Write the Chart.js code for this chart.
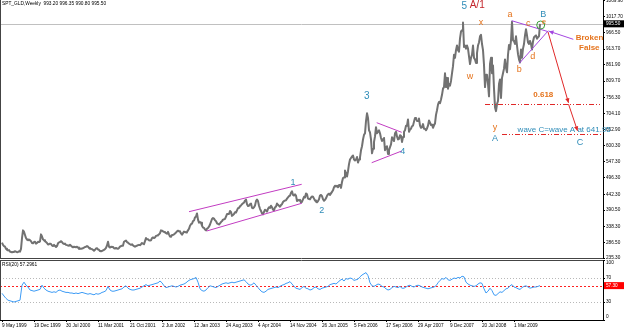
<!DOCTYPE html>
<html>
<head>
<meta charset="utf-8">
<title>SPT_GLD Weekly</title>
<script src="https://cdn.jsdelivr.net/npm/chart.js@4.4.0/dist/chart.umd.min.js"></script>
<style>
  html, body { margin: 0; padding: 0; background: #fff; }
  #wrap { position: relative; width: 625px; height: 330px; overflow: hidden; }
  #main { position: absolute; left: 0; top: 0; }
  #rsi { position: absolute; left: 0; top: 254px; }
</style>
</head>
<body>
<div id="wrap">
  <canvas id="main" width="625" height="260"></canvas>
  <canvas id="rsi" width="625" height="76"></canvas>
</div>
<script>
// weekly closes, first bar is the week of 9 May 1999
const gold1999 = [285,278,274,272, 265,262,260,261, 256,255,254,255, 256,257,256,254,255, 257,256,265,300, 325,320,310,300,295, 293,295,293,290, 284,283,287,288];
const gold2000 = [282,284,288,287,289, 312,305,296,293, 290,287,284,279, 280,282,281,276,274, 278,274,271,274, 283,286,287,290, 287,283,281,282,278, 277,276,275,278, 275,272,270,272, 271,270,272,269,265, 266,265,266,267, 269,271,272,274,272];
const gold2001 = [268,265,265,264, 262,259,262,266, 267,263,262,258, 257,258,260,262,264, 268,276,288,272, 269,272,272,271, 267,266,268,266,265, 268,272,274,275, 276,288,290,292,287, 285,282,280,278, 280,276,274,272, 274,275,277,278,277];
const gold2002 = [280,284,282,280, 290,300,296,296, 293,292,293,300,302, 300,302,307,308, 310,312,316,325, 324,322,320,318,316, 314,320,312,305, 304,310,310,312, 315,318,322,324,322, 321,315,311,316, 321,320,318,320, 325,330,340,345,347];
const gold2003 = [355,357,367,370, 380,360,350,352, 350,340,334,333,328, 325,330,333,337, 344,353,362,365, 363,358,355,348,346, 344,348,352,355, 360,360,362,370,378, 378,378,388,385, 372,375,378,384, 383,390,397,398,403, 406,410,413,415];
const gold2004 = [422,425,410,404, 405,410,412,398,397, 400,406,420,425, 420,405,395,388, 380,377,385,392,390, 386,395,400,398, 405,400,392,390, 400,402,412,408,405, 402,407,410,417, 420,422,423,428,432, 436,438,447,452, 440,438,442,438];
const gold2005 = [420,424,422,424,415, 418,426,434,432, 445,442,428,427, 426,432,435,434, 428,422,418,416,420, 426,438,440,436, 426,421,424,429,437, 442,444,440,445, 450,455,465,470, 467,470,465,472,472, 463,482,495,497, 519,510,500,517];
const gold2006 = [540,555,560,565,568, 555,552,555,563, 545,555,562,585, 598,620,635,640,680, 705,690,650,643, 620,575,590,612, 630,660,640,645,650, 640,625,615,620, 625,585,595,598, 573,585,595,604,627, 622,615,640,645, 630,620,622,634,632];
const gold2007 = [612,628,645,650, 665,665,685,645, 652,655,663,665, 678,690,690,680,680, 688,665,658,660, 670,655,655,650, 656,665,682,675,667, 668,658,666,672, 700,715,733,742,738, 750,765,785,790, 835,790,820,785, 800,795,810,835,858];
const gold2008 = [895,885,910,925, 910,905,948,970, 975,1000,920,925,915, 925,915,890,865, 885,895,925,885, 880,868,900,925,935, 955,960,930,910, 862,790,830,830,800, 760,865,885,835, 860,785,725,712, 735,745,800,815,755, 820,835,850,880];
const gold2009 = [853,838,895,927, 913,941,1002,942, 939,930,955,925,897, 880,870,912,885, 915,930,958,978,958, 935,930,940,930, 912,938,952,955, 958,947,952,955,995.5];

// RSI(20), one reading every second week
const rsiPart1 = [44.5,40,36,33,32,31,30,31,32,33, 58,63,58,55,50,49,48,49,50,51, 58,53,50,48,47,46,47,46,49,50, 48,47,46,46,45,45,44,45,44,45, 46,45,44,43,44];
const rsiPart2 = [43,42,44,43,44,46,47,49,56,50, 48,48,49,50,51,52,55,57,53,51, 50,50,51,52,53,55,57,59,57,58, 59,60,61,62,65,62,57,54,55,56, 57,56,55,56,58];
const rsiPart3 = [59,60,62,65,67,68,69,71,63,52, 49,48,50,54,57,56,55,54,56,58, 60,61,62,61,62,63,62,63,64,65, 66,67,64,60,58,59,62,58,54,50, 47,46,48,51,52];
const rsiPart4 = [53,54,55,54,56,58,59,61,62,64, 60,56,53,52,51,54,56,53,52,50, 51,54,55,52,51,53,54,55,56,59, 60,61,60,63,66,68,65,69,68,70, 69,66,67,68,72];
const rsiPart5 = [75,77,79,74,62,57,56,58,60,59, 56,55,52,50,51,54,56,55,54,56, 53,53,55,57,58,56,55,57,58,57, 55,54,53,52,53,54,55,57,62,66, 69,68,71,67,66];
const rsiPart6 = [68,70,69,71,70,73,72,63,60,58, 57,56,57,60,62,61,52,45,48,53, 49,42,41,44,47,46,49,52,53,57, 59,55,54,52,51,54,56,57,55,53, 54,55,55,56,57.3];

const priceTicks = [235.30, 286.50, 338.30, 390.50, 442.30, 496.30, 547.30, 600.30, 652.90, 704.10, 756.30, 809.70, 861.90, 913.70, 966.50, 1017.70, 1069.90];
const rsiTicks = [0, 30, 70, 100];
const dateLabels = ['9 May 1999', '19 Dec 1999', '30 Jul 2000', '11 Mar 2001', '21 Oct 2001', '2 Jun 2002', '12 Jan 2003', '24 Aug 2003', '4 Apr 2004', '14 Nov 2004', '26 Jun 2005', '5 Feb 2006', '17 Sep 2006', '29 Apr 2007', '9 Dec 2007', '20 Jul 2008', '1 Mar 2009'];
const weeksPerLabel = 32;
const lastClose = 995.50;
const rsiNow = 57.2961;
const titleText = 'SPT_GLD,Weekly  993.20 996.35 990.80 995.50';

const closes = [].concat(gold1999, gold2000, gold2001, gold2002, gold2003, gold2004, gold2005, gold2006, gold2007, gold2008, gold2009);
const rsiValues = [].concat(rsiPart1, rsiPart2, rsiPart3, rsiPart4, rsiPart5, rsiPart6);

const FONT = 'Liberation Sans';
const TEAL = '#2f8cb8';
const ORANGE = '#e5731c';
const MAGENTA = '#c23cc2';
const VIOLET = '#a447e0';
const RED = '#e02828';

// drawn wave marks, in (week, price)
const waveLines = [
  { a: [187, 385.6], b: [299.7, 474.5], color: MAGENTA },
  { a: [204.7, 322.9], b: [299.7, 412.9], color: MAGENTA },
  { a: [374.7, 674.5], b: [399.7, 643.3], color: MAGENTA },
  { a: [369.7, 544.6], b: [399.7, 582.6], color: MAGENTA },
  { a: [509.7, 1005.6], b: [546.3, 969.9], color: VIOLET },
  { a: [517.3, 867.3], b: [546.3, 973.2], color: VIOLET }
];
const arrows = [
  { a: [571.3, 945.2], b: [547, 971.5], color: VIOLET },
  { a: [546, 969], b: [566.5, 739], color: RED },
  { a: [566.5, 735], b: [575.5, 648], color: RED }
];
const levels = [
  { from: 483, to: 598, p: 735.2 },
  { from: 500, to: 601, p: 637 }
];
const waveText = [
  { t: '1', w: 291, p: 478.8, c: TEAL, s: 9 },
  { t: '2', w: 319.7, p: 388.8, c: TEAL, s: 9 },
  { t: '3', w: 364.7, p: 758.9, c: TEAL, s: 10 },
  { t: '4', w: 400.7, p: 580.4, c: TEAL, s: 9 },
  { t: '5', w: 462.3, p: 1053.3, c: TEAL, s: 10 },
  { t: 'A/1', w: 475.2, p: 1056.5, c: '#c3262c', s: 10 },
  { t: 'x', w: 479, p: 999.1, c: ORANGE, s: 9 },
  { t: 'w', w: 468, p: 823.8, c: ORANGE, s: 9 },
  { t: 'y', w: 493, p: 658.3, c: ORANGE, s: 9 },
  { t: 'A', w: 493, p: 623.8, c: TEAL, s: 9 },
  { t: 'a', w: 508, p: 1024.1, c: ORANGE, s: 9 },
  { t: 'b', w: 517.3, p: 847.9, c: ORANGE, s: 9 },
  { t: 'c', w: 526.3, p: 994.9, c: ORANGE, s: 9 },
  { t: 'd', w: 530.7, p: 888.7, c: ORANGE, s: 9 },
  { t: 'e', w: 542, p: 1001.4, c: ORANGE, s: 8 },
  { t: 'B', w: 541.3, p: 1026.4, c: TEAL, s: 9 },
  { t: 'Broken', w: 587.5, p: 948.5, c: ORANGE, s: 8, bold: true },
  { t: 'False', w: 587.3, p: 918, c: ORANGE, s: 8, bold: true },
  { t: '0.618', w: 541.3, p: 764.4, c: ORANGE, s: 8, bold: true },
  { t: 'wave C=wave A at 641.95', w: 562.2, p: 650.8, c: TEAL, s: 8 },
  { t: 'C', w: 578, p: 609.6, c: TEAL, s: 9 }
];

function toPx(chart, w, p) {
  return [chart.scales.x.getPixelForValue(w), chart.scales.y.getPixelForValue(p)];
}

function arrowHead(ctx, x1, y1, x2, y2, color) {
  const ang = Math.atan2(y2 - y1, x2 - x1);
  const size = 5;
  ctx.fillStyle = color;
  ctx.beginPath();
  ctx.moveTo(x2, y2);
  ctx.lineTo(x2 - size * Math.cos(ang - 0.45), y2 - size * Math.sin(ang - 0.45));
  ctx.lineTo(x2 - size * Math.cos(ang + 0.45), y2 - size * Math.sin(ang + 0.45));
  ctx.closePath();
  ctx.fill();
}

function axisBox(ctx, x, y, text, bg) {
  ctx.fillStyle = bg;
  ctx.fillRect(x, y - 3.5, 20, 7);
  ctx.fillStyle = '#fff';
  ctx.font = '4.7px "' + FONT + '"';
  ctx.textAlign = 'left';
  ctx.textBaseline = 'middle';
  ctx.fillText(text, x + 2, y + 0.3);
}

const mainMarks = {
  id: 'mainMarks',
  beforeDatasetsDraw(chart) {
    const ctx = chart.ctx;
    const area = chart.chartArea;
    const y = Math.round(chart.scales.y.getPixelForValue(lastClose)) + 0.5;
    ctx.save();
    ctx.strokeStyle = '#c0c0c0';
    ctx.lineWidth = 1;
    ctx.beginPath();
    ctx.moveTo(area.left, y);
    ctx.lineTo(area.right, y);
    ctx.stroke();
    ctx.restore();
  },
  afterDraw(chart) {
    const ctx = chart.ctx;
    const area = chart.chartArea;
    ctx.save();

    // frame
    ctx.strokeStyle = '#444';
    ctx.lineWidth = 1;
    ctx.beginPath();
    ctx.moveTo(0.5, 0);
    ctx.lineTo(0.5, area.bottom);
    ctx.moveTo(0, area.bottom + 0.5);
    ctx.lineTo(area.right, area.bottom + 0.5);
    ctx.stroke();

    ctx.lineWidth = 1;
    waveLines.forEach(l => {
      const [x1, y1] = toPx(chart, l.a[0], l.a[1]);
      const [x2, y2] = toPx(chart, l.b[0], l.b[1]);
      ctx.strokeStyle = l.color;
      ctx.beginPath();
      ctx.moveTo(x1, y1);
      ctx.lineTo(x2, y2);
      ctx.stroke();
    });

    ctx.setLineDash([5, 2, 1, 2, 1, 2]);
    ctx.strokeStyle = RED;
    levels.forEach(l => {
      const [x1, y] = toPx(chart, l.from, l.p);
      const [x2] = toPx(chart, l.to, l.p);
      const yy = Math.round(y) + 0.5;
      ctx.beginPath();
      ctx.moveTo(x1, yy);
      ctx.lineTo(x2, yy);
      ctx.stroke();
    });
    ctx.setLineDash([]);

    arrows.forEach(l => {
      const [x1, y1] = toPx(chart, l.a[0], l.a[1]);
      const [x2, y2] = toPx(chart, l.b[0], l.b[1]);
      ctx.strokeStyle = l.color;
      ctx.beginPath();
      ctx.moveTo(x1, y1);
      ctx.lineTo(x2, y2);
      ctx.stroke();
      arrowHead(ctx, x1, y1, x2, y2, l.color);
    });

    // small circle at the end of the triangle
    const [cx, cy] = toPx(chart, 538.7, 991.6);
    ctx.strokeStyle = '#3aa03a';
    ctx.beginPath();
    ctx.arc(cx, cy, 4, 0, Math.PI * 2);
    ctx.stroke();

    ctx.textAlign = 'center';
    ctx.textBaseline = 'middle';
    waveText.forEach(n => {
      const [x, y] = toPx(chart, n.w, n.p);
      ctx.font = (n.bold ? 'bold ' : '') + n.s + 'px "' + FONT + '"';
      ctx.fillStyle = n.c;
      ctx.fillText(n.t, x, y);
    });

    ctx.font = '4.8px "' + FONT + '"';
    ctx.fillStyle = '#000';
    ctx.textAlign = 'left';
    ctx.fillText(titleText, 2, 4);

    axisBox(ctx, area.right + 1, chart.scales.y.getPixelForValue(lastClose), lastClose.toFixed(2), '#000');
    ctx.restore();
  }
};

const rsiMarks = {
  id: 'rsiMarks',
  beforeDatasetsDraw(chart) {
    const ctx = chart.ctx;
    const area = chart.chartArea;
    const ys = chart.scales.y;
    ctx.save();
    ctx.lineWidth = 1;
    ctx.strokeStyle = '#b8b8b8';
    ctx.setLineDash([1, 2]);
    [70, 30].forEach(v => {
      const y = Math.round(ys.getPixelForValue(v)) + 0.5;
      ctx.beginPath();
      ctx.moveTo(area.left, y);
      ctx.lineTo(area.right, y);
      ctx.stroke();
    });
    ctx.strokeStyle = '#ff2020';
    ctx.setLineDash([2, 2]);
    const yr = Math.round(ys.getPixelForValue(rsiNow)) + 0.5;
    ctx.beginPath();
    ctx.moveTo(area.left, yr);
    ctx.lineTo(area.right, yr);
    ctx.stroke();
    ctx.restore();
  },
  afterDraw(chart) {
    const ctx = chart.ctx;
    const area = chart.chartArea;
    const ys = chart.scales.y;
    ctx.save();
    ctx.strokeStyle = '#444';
    ctx.lineWidth = 1;
    ctx.beginPath();
    ctx.moveTo(0, area.top + 0.5);
    ctx.lineTo(area.right, area.top + 0.5);
    ctx.moveTo(0.5, area.top);
    ctx.lineTo(0.5, area.bottom);
    ctx.stroke();

    // scale labels kept inside the panel, as the terminal does
    ctx.font = '4.7px "' + FONT + '"';
    ctx.fillStyle = '#000';
    ctx.textAlign = 'left';
    ctx.textBaseline = 'middle';
    ctx.strokeStyle = '#000';
    rsiTicks.forEach(v => {
      const y = ys.getPixelForValue(v);
      const ly = Math.min(Math.max(y, area.top + 3), area.bottom - 3);
      ctx.beginPath();
      ctx.moveTo(area.right, Math.round(y) + 0.5);
      ctx.lineTo(area.right + 2, Math.round(y) + 0.5);
      ctx.stroke();
      ctx.fillText(String(v), area.right + 3, ly);
    });

    ctx.font = '4.8px "' + FONT + '"';
    ctx.fillText('RSI(20) ' + rsiNow.toFixed(4), 2, area.top + 5);
    axisBox(ctx, area.right + 1, ys.getPixelForValue(rsiNow), rsiNow.toFixed(2), '#ff0000');
    ctx.restore();
  }
};

Chart.defaults.font.family = FONT;

new Chart(document.getElementById('main'), {
  type: 'line',
  data: {
    datasets: [{
      data: closes.map((v, i) => ({ x: i, y: v })),
      borderColor: '#727272',
      borderWidth: 2,
      borderJoinStyle: 'round',
      pointRadius: 0,
      tension: 0
    }]
  },
  options: {
    responsive: false,
    animation: false,
    events: [],
    layout: { padding: { left: 0, right: 0, top: 0, bottom: 2 } },
    plugins: { legend: { display: false }, tooltip: { enabled: false } },
    scales: {
      x: { type: 'linear', min: -2, max: 601, display: false },
      y: {
        type: 'linear',
        position: 'right',
        min: 235.3,
        max: 1072.8,
        afterBuildTicks: s => { s.ticks = priceTicks.map(v => ({ value: v })); },
        afterFit: s => { s.width = 22; s.paddingTop = 0; s.paddingBottom = 0; },
        ticks: {
          autoSkip: false,
          padding: 1,
          color: '#000',
          font: { size: 4.7 },
          callback: v => Number(v).toFixed(2)
        },
        grid: { drawOnChartArea: false, tickLength: 2, color: '#000' },
        border: { display: true, color: '#000' }
      }
    }
  },
  plugins: [mainMarks]
});

new Chart(document.getElementById('rsi'), {
  type: 'line',
  data: {
    datasets: [{
      data: rsiValues.map((v, i) => ({ x: i * 2, y: v })),
      borderColor: '#3d9bf5',
      borderWidth: 1,
      pointRadius: 0,
      tension: 0
    }]
  },
  options: {
    responsive: false,
    animation: false,
    events: [],
    layout: { padding: { left: 0, right: 0, top: 6, bottom: 0 } },
    plugins: { legend: { display: false }, tooltip: { enabled: false } },
    scales: {
      x: {
        type: 'linear',
        min: -2,
        max: 601,
        afterBuildTicks: s => { s.ticks = dateLabels.map((d, i) => ({ value: i * weeksPerLabel })); },
        afterFit: s => { s.height = 10; s.paddingLeft = 0; s.paddingRight = 0; },
        ticks: {
          autoSkip: false,
          maxRotation: 0,
          align: 'start',
          padding: 1,
          color: '#000',
          font: { size: 4.7 },
          callback: (v, i) => dateLabels[i]
        },
        grid: { drawOnChartArea: false, tickLength: 2, color: '#000' },
        border: { display: true, color: '#000' }
      },
      y: {
        type: 'linear',
        position: 'right',
        min: 0,
        max: 100,
        afterBuildTicks: s => { s.ticks = rsiTicks.map(v => ({ value: v })); },
        afterFit: s => { s.width = 22; s.paddingTop = 0; s.paddingBottom = 0; },
        ticks: { display: false },
        grid: { drawOnChartArea: false, drawTicks: false },
        border: { display: true, color: '#000' }
      }
    }
  },
  plugins: [rsiMarks]
});
</script>
</body>
</html>
